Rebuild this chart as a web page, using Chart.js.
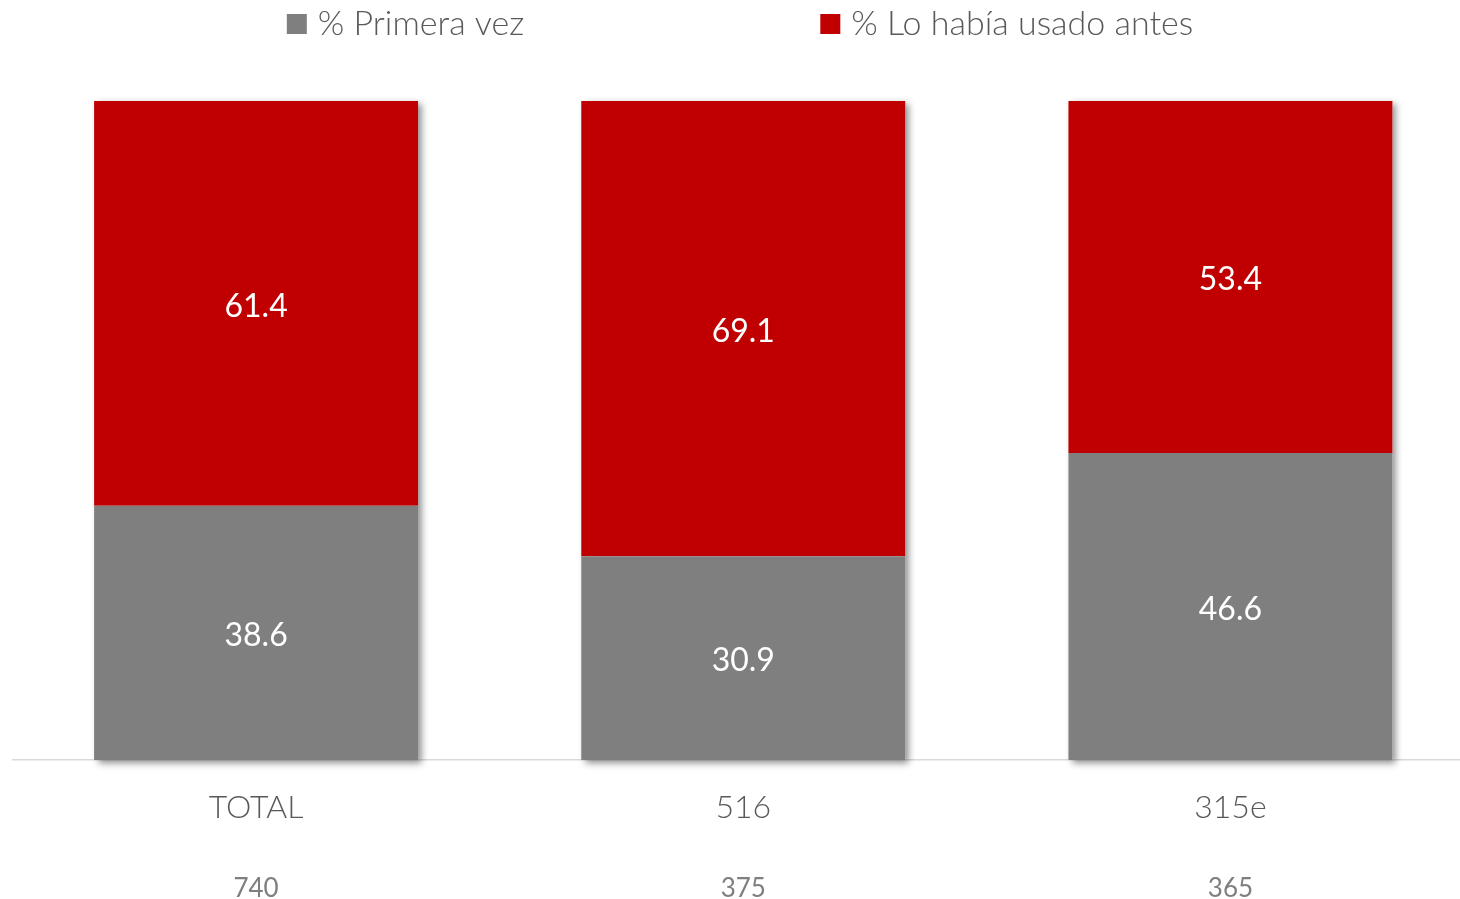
<!DOCTYPE html>
<html lang="es">
<head>
<meta charset="utf-8">
<title>Primera vez vs lo había usado antes</title>
<script src="https://cdn.jsdelivr.net/npm/chart.js@4.4.1/dist/chart.umd.min.js"></script>
<style>
    html, body { margin: 0; padding: 0; background: #ffffff; overflow: hidden; }
    #chart-wrap { width: 1474px; height: 922px; }
</style>
</head>
<body>
<div id="chart-wrap">
    <canvas id="usoChart" width="1474" height="922"></canvas>
</div>
<script>
//#region === Dữ liệu ===

const categories = ['TOTAL', '516', '315e'];
const sampleSizes = ['740', '375', '365'];
const primeraVez = [38.6, 30.9, 46.6];
const usadoAntes = [61.4, 69.1, 53.4];
const seriesLabels = ['% Primera vez', '% Lo había usado antes'];
const seriesColors = ['#7f7f7f', '#c00000'];

//#endregion

//#region === Plugins ===

// Bóng đổ cho cả cột (vẽ trước các đoạn để không đổ bóng lên nhau)
const barShadow = {
    id: 'barShadow',
    beforeDatasetsDraw(chart) {
        const ctx = chart.ctx;
        const metas = chart.data.datasets.map((d, i) => chart.getDatasetMeta(i));
        const last = metas[metas.length - 1];
        ctx.save();
        ctx.shadowColor = 'rgba(0, 0, 0, 0.45)';
        ctx.shadowBlur = 7;
        ctx.shadowOffsetX = 4;
        ctx.shadowOffsetY = 3;
        ctx.fillStyle = '#ffffff';
        metas[0].data.forEach((bar, i) => {
            const top = last.data[i].y;
            const { width, base } = bar.getProps(['width', 'base'], true);
            ctx.fillRect(bar.x - width / 2, top, width, base - top);
        });
        ctx.restore();
    }
};

// Nhãn giá trị ở giữa mỗi đoạn
const valueLabels = {
    id: 'valueLabels',
    afterDatasetsDraw(chart) {
        const ctx = chart.ctx;
        ctx.save();
        ctx.fillStyle = '#ffffff';
        ctx.font = '32px Lato, "Open Sans", sans-serif';
        ctx.textAlign = 'center';
        ctx.textBaseline = 'middle';
        chart.data.datasets.forEach((ds, di) => {
            chart.getDatasetMeta(di).data.forEach((bar, i) => {
                const { y, base } = bar.getProps(['y', 'base'], true);
                // Lato hơi lệch lên khi căn giữa, bù 3px
                ctx.fillText(ds.data[i].toFixed(1), bar.x, (y + base) / 2 + 3);
            });
        });
        ctx.restore();
    }
};

// Chú thích phía trên, hai mục cách xa nhau
const topLegend = {
    id: 'topLegend',
    afterDraw(chart) {
        const ctx = chart.ctx;
        const box = 20, gap = 11, itemGap = 296, centerX = 740, midY = 24;
        ctx.save();
        ctx.font = '300 34px Lato, "Open Sans", sans-serif';
        ctx.textBaseline = 'middle';
        const items = chart.data.datasets.map(ds => ({
            text: ds.label,
            color: ds.backgroundColor,
            width: box + gap + ctx.measureText(ds.label).width
        }));
        const rowWidth = items.reduce((s, it) => s + it.width, 0) + itemGap * (items.length - 1);
        let x = centerX - rowWidth / 2;
        items.forEach(it => {
            ctx.fillStyle = it.color;
            ctx.fillRect(x, midY - box / 2, box, box);
            ctx.fillStyle = '#595959';
            ctx.fillText(it.text, x + box + gap, midY);
            x += it.width + itemGap;
        });
        ctx.restore();
    }
};

//#endregion

//#region === Khởi tạo biểu đồ ===

function renderChart() {
    const ctx = document.getElementById('usoChart').getContext('2d');
    Chart.defaults.font.family = 'Lato, "Open Sans", sans-serif';

    new Chart(ctx, {
        type: 'bar',
        data: {
            labels: categories,
            datasets: [
                { label: seriesLabels[0], data: primeraVez, backgroundColor: seriesColors[0] },
                { label: seriesLabels[1], data: usadoAntes, backgroundColor: seriesColors[1] }
            ]
        },
        options: {
            responsive: false,
            animation: false,
            layout: { padding: { top: 101, left: 12.5, right: 0, bottom: 0 } },
            datasets: {
                bar: { categoryPercentage: 1, barPercentage: 0.665, borderWidth: 0 }
            },
            scales: {
                x: {
                    stacked: true,
                    grid: { display: false, drawTicks: false },
                    border: { display: true, color: '#d9d9d9', width: 1.5 },
                    ticks: {
                        color: '#595959',
                        padding: 32,
                        font: { size: 32, weight: '300', lineHeight: 1 }
                    }
                },
                x2: {
                    type: 'category',
                    position: 'bottom',
                    labels: sampleSizes,
                    grid: { display: false, drawTicks: false },
                    border: { display: false },
                    ticks: {
                        color: '#7f7f7f',
                        padding: 20,
                        font: { size: 26, lineHeight: 1 }
                    }
                },
                y: {
                    stacked: true,
                    display: false,
                    min: 0,
                    max: 100
                }
            },
            plugins: {
                legend: { display: false },
                tooltip: { enabled: false }
            }
        },
        plugins: [barShadow, valueLabels, topLegend]
    });
}

document.addEventListener('DOMContentLoaded', renderChart);

//#endregion
</script>
</body>
</html>
